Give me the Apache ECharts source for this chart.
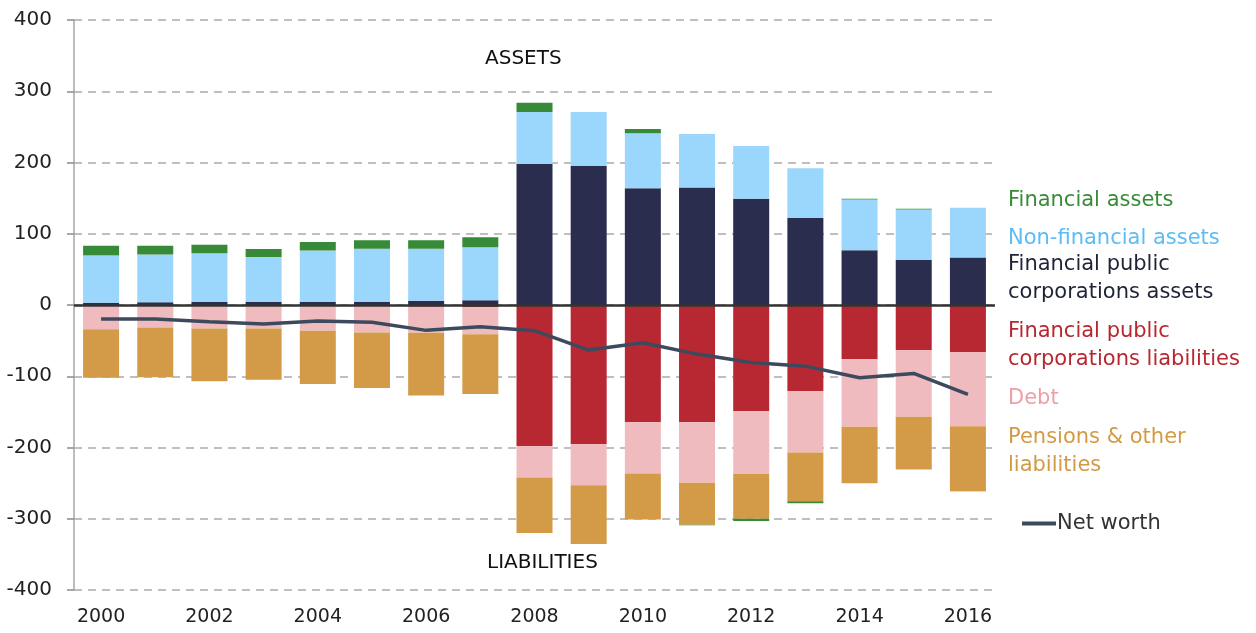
<!DOCTYPE html>
<html>
<head>
<meta charset="utf-8">
<title>Assets and liabilities</title>
<script src="https://cdn.jsdelivr.net/npm/echarts@6/dist/echarts.min.js"></script>
<style>
  html, body { margin: 0; padding: 0; background: #fff; }
  #chart { width: 1256px; height: 633px; }
</style>
</head>
<body>
<div id="chart"></div>
<script>
// categories
var years = ["2000", "2001", "2002", "2003", "2004", "2005", "2006", "2007", "2008",
  "2009", "2010", "2011", "2012", "2013", "2014", "2015", "2016"];

// assets (positive)
var fpcAssets = [3, 4, 4.5, 4.5, 4.5, 4.5, 6, 6.5, 198, 195.5, 164, 165, 149, 122, 77, 63, 66.5];
var nonFinAssets = [67, 67, 68, 63, 72, 74.5, 73, 74.5, 73, 75.5, 77, 75, 74, 70, 71, 71, 70];
// financial assets, negative in a few years
var finAssets = [13, 12, 12, 11, 12, 12, 12, 14, 12.7, -0.5, 6, -0.5, -3, -2.8, 1, 1, -0.5];

// liabilities (negative)
var fpcLiab = [-0.5, -0.5, -1, -1, -1, -1, -2.5, -3, -198, -195.5, -164.5, -164.5, -149, -121, -76, -63, -66];
var debt = [-33.5, -31, -32, -32, -35, -37.5, -36.5, -38, -44, -57.5, -72, -85, -88, -86, -95, -94, -104];
var pensions = [-68, -70, -74, -72, -75, -78, -88, -84, -78, -82, -64.5, -59, -63, -68.5, -79, -74, -91];

var netWorth = [-19.7, -19.7, -23.4, -26.7, -22.5, -24.3, -35.6, -30.4, -36.1, -63.3, -53, -68.9,
  -80.6, -85.8, -102.2, -96.1, -125.6];

var yTicks = [-400, 400, 100];

var font = "DejaVu Sans";
var myChart = echarts.init(document.getElementById("chart"));

function barSeries(name, data, color) {
  return {
    name: name,
    type: "bar",
    stack: "total",
    stackStrategy: "samesign",
    barWidth: 36,
    data: data,
    itemStyle: { color: color },
    emphasis: { disabled: true }
  };
}

function legendText(text, y, color, lh) {
  return {
    type: "text",
    left: 1008,
    top: y,
    style: {
      text: text,
      fill: color,
      font: "21px '" + font + "'",
      lineHeight: lh || 28,
      verticalAlign: "middle"
    }
  };
}

myChart.setOption({
  animation: false,
  textStyle: { fontFamily: font },
  grid: { left: 74, right: 261, top: 20, bottom: 43 },
  xAxis: {
    type: "category",
    data: years,
    axisLine: { show: false },
    axisTick: { show: false },
    axisLabel: {
      interval: 1,
      margin: 18,
      fontSize: 19,
      color: "#222"
    }
  },
  yAxis: {
    type: "value",
    min: yTicks[0],
    max: yTicks[1],
    interval: yTicks[2],
    axisLine: { show: true, lineStyle: { color: "#a6a6a6", width: 1.5 } },
    axisTick: { show: true, inside: false, length: 7, lineStyle: { color: "#8c8c8c", width: 1.5 } },
    axisLabel: { margin: 22, fontSize: 20, color: "#222" },
    splitLine: {
      show: true,
      lineStyle: { color: "#ababab", width: 1.5, type: [8, 6] }
    }
  },
  legend: {
    data: [{ name: "Net worth", icon: "path://M0,0H36V4H0Z" }],
    left: 1017,
    top: 508,
    itemWidth: 34,
    itemHeight: 4,
    textStyle: { fontSize: 21, color: "#333", padding: [0, 0, 0, -4] }
  },
  graphic: [
    { type: "text", left: 485, top: 49, style: { text: "ASSETS", fill: "#111", font: "20px '" + font + "'" } },
    { type: "text", left: 487, top: 553, style: { text: "LIABILITIES", fill: "#111", font: "20px '" + font + "'" } },
    legendText("Financial assets", 187, "#388c38"),
    legendText("Non-financial assets", 225, "#5cbcf4"),
    legendText("Financial public\ncorporations assets", 251, "#1f2336"),
    legendText("Financial public\ncorporations liabilities", 317, "#b8272f", 28.5),
    legendText("Debt", 385, "#ee9fa5"),
    legendText("Pensions & other\nliabilities", 424, "#d39a45")
  ],
  series: [
    barSeries("Financial public corporations assets", fpcAssets, "#2b2d4f"),
    barSeries("Financial public corporations liabilities", fpcLiab, "#b82833"),
    barSeries("Non-financial assets", nonFinAssets, "#9bd6fc"),
    barSeries("Debt", debt, "#efbbbf"),
    barSeries("Pensions & other liabilities", pensions, "#d39b47"),
    barSeries("Financial assets", finAssets, "#378a37"),
    {
      name: "Net worth",
      type: "line",
      data: netWorth,
      symbol: "none",
      lineStyle: { color: "#3d4a5e", width: 3.5 },
      itemStyle: { color: "#3d4a5e" },
      emphasis: { disabled: true },
      z: 5,
      markLine: {
        silent: true,
        symbol: ["none", "none"],
        label: { show: false },
        lineStyle: { color: "#333", width: 2.5, type: "solid" },
        data: [{ yAxis: 0 }]
      }
    }
  ]
});
</script>
</body>
</html>
